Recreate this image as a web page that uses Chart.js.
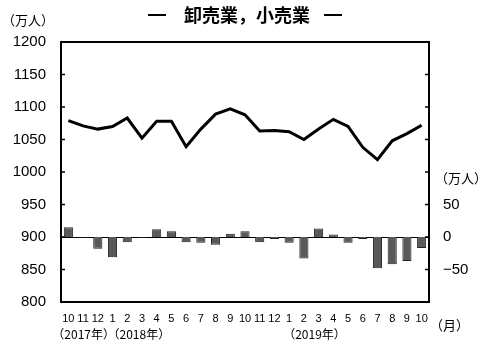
<!DOCTYPE html>
<html>
<head>
<meta charset="utf-8">
<script src="https://cdn.jsdelivr.net/npm/chart.js@4.4.0/dist/chart.umd.min.js"></script>
<style>
  html, body { margin: 0; padding: 0; background: #fff; }
  #wrap { width: 483px; height: 349px; }
</style>
</head>
<body>
<div id="wrap"><canvas id="chart" width="483" height="349"></canvas></div>
<script>
// 月ラベル (2017年10月〜2019年10月)
var months = ['10','11','12','1','2','3','4','5','6','7','8','9','10','11','12','1','2','3','4','5','6','7','8','9','10'];
// 年ラベルとその位置 (カテゴリ番号)
var yearTexts = ['（2017年）', '（2018年）', '（2019年）'];
var yearIndex = [0, 3, 15];
// 就業者数 (万人, 左軸)
var employed = [1079, 1071, 1066, 1070, 1083, 1052, 1078, 1078, 1039, 1066, 1089, 1097, 1088, 1063, 1064, 1062, 1050, 1066, 1081, 1070, 1038, 1019, 1048, 1059, 1072];
// 前年同月差 (万人, 右軸)
var change = [15, -1, -18, -31, -8, -1, 12, 9, -8, -9, -12, 5, 9, -8, -3, -9, -33, 13, 4, -9, -3, -48, -42, -37, -17];
// 軸の目盛
var leftTicks = [800, 850, 900, 950, 1000, 1050, 1100, 1150, 1200];
var rightTicks = [-50, 0, 50];

var FONT = '"Liberation Sans", "Noto Sans CJK JP", sans-serif';
var JP = '"Noto Sans CJK JP", sans-serif';

// 枠線・内向きの目盛・ゼロ線・文字
var decor = {
    id: 'decor',
    beforeDatasetsDraw: function(chart){
        var ctx = chart.ctx, a = chart.chartArea;
        var y0 = chart.scales.y1.getPixelForValue(0);
        ctx.save();
        ctx.strokeStyle = '#000';
        ctx.lineWidth = 1;
        ctx.beginPath();
        ctx.moveTo(a.left, Math.round(y0) + 0.5);
        ctx.lineTo(a.right, Math.round(y0) + 0.5);
        ctx.stroke();
        ctx.restore();
    },
    afterDraw: function(chart){
        var ctx = chart.ctx, a = chart.chartArea;
        var ys = chart.scales.y, xs = chart.scales.x;
        ctx.save();
        ctx.strokeStyle = '#000';
        ctx.lineWidth = 1.5;
        leftTicks.forEach(function(v){
            var p = ys.getPixelForValue(v);
            ctx.beginPath();
            ctx.moveTo(a.left, p); ctx.lineTo(a.left + 4, p);
            ctx.moveTo(a.right, p); ctx.lineTo(a.right - 4, p);
            ctx.stroke();
        });
        ctx.lineWidth = 2;
        ctx.strokeRect(a.left, a.top, a.right - a.left, a.bottom - a.top);

        // タイトル (前後の線つき)
        var cx = (a.left + a.right) / 2;
        ctx.lineWidth = 2;
        ctx.beginPath();
        ctx.moveTo(cx - 97, 15); ctx.lineTo(cx - 79, 15);
        ctx.moveTo(cx + 79, 15); ctx.lineTo(cx + 97, 15);
        ctx.stroke();
        ctx.fillStyle = '#000';
        ctx.textBaseline = 'middle';
        ctx.font = 'bold 18px ' + JP;
        ctx.textAlign = 'center';
        ctx.fillText('卸売業，小売業', cx + 2, 15);
        // 単位
        ctx.font = '13px ' + JP;
        ctx.textAlign = 'left';
        ctx.fillText('（万人）', 2, 20);
        ctx.fillText('（万人）', a.right + 6, 178);
        ctx.font = '13px ' + JP;
        ctx.fillText('（月）', a.right + 1, 325);
        // 年
        ctx.font = '12px ' + JP;
        var dx = [-16, -5, -6];
        yearTexts.forEach(function(t, i){
            ctx.fillText(t, xs.getPixelForValue(yearIndex[i]) + dx[i], 334);
        });
        ctx.restore();
    }
};

var context = document.getElementById('chart').getContext('2d');
var myChart = new Chart(context, {
    type: 'bar',
    data: {
        labels: months,
        datasets: [{
            type: 'line',
            data: employed,
            yAxisID: 'y',
            borderColor: '#000',
            borderWidth: 3,
            pointRadius: 0,
            tension: 0,
            order: 1
        }, {
            type: 'bar',
            data: change,
            yAxisID: 'y1',
            backgroundColor: '#595959',
            borderColor: '#222',
            borderWidth: 1,
            barPercentage: 0.62,
            categoryPercentage: 1,
            order: 2
        }]
    },
    options: {
        responsive: false,
        animation: false,
        layout: { padding: { top: 42, left: 0, right: 0, bottom: 0 } },
        plugins: { legend: { display: false }, tooltip: { enabled: false } },
        scales: {
            x: {
                offset: true,
                grid: { display: false, drawTicks: false },
                border: { display: false },
                ticks: { autoSkip: false, maxRotation: 0, minRotation: 0, padding: 10, color: '#000', font: { family: FONT, size: 11 } },
                afterFit: function(s){ s.height = 47; }
            },
            y: {
                position: 'left',
                min: 800, max: 1200,
                grid: { display: false, drawTicks: false },
                border: { display: false },
                ticks: {
                    stepSize: 50, padding: 15, color: '#000', font: { family: FONT, size: 15 },
                    callback: function(v){ return '' + v; }
                },
                afterFit: function(s){ s.width = 61; }
            },
            y1: {
                position: 'right',
                min: -100, max: 300,
                grid: { display: false, drawTicks: false },
                border: { display: false },
                ticks: {
                    stepSize: 50, padding: 14, color: '#000', font: { family: FONT, size: 15 },
                    callback: function(v){
                        if(rightTicks.indexOf(v) < 0) return '';
                        return v < 0 ? '−' + Math.abs(v) : '' + v;
                    }
                },
                afterFit: function(s){ s.width = 54; }
            }
        }
    },
    plugins: [decor]
});
</script>
</body>
</html>
